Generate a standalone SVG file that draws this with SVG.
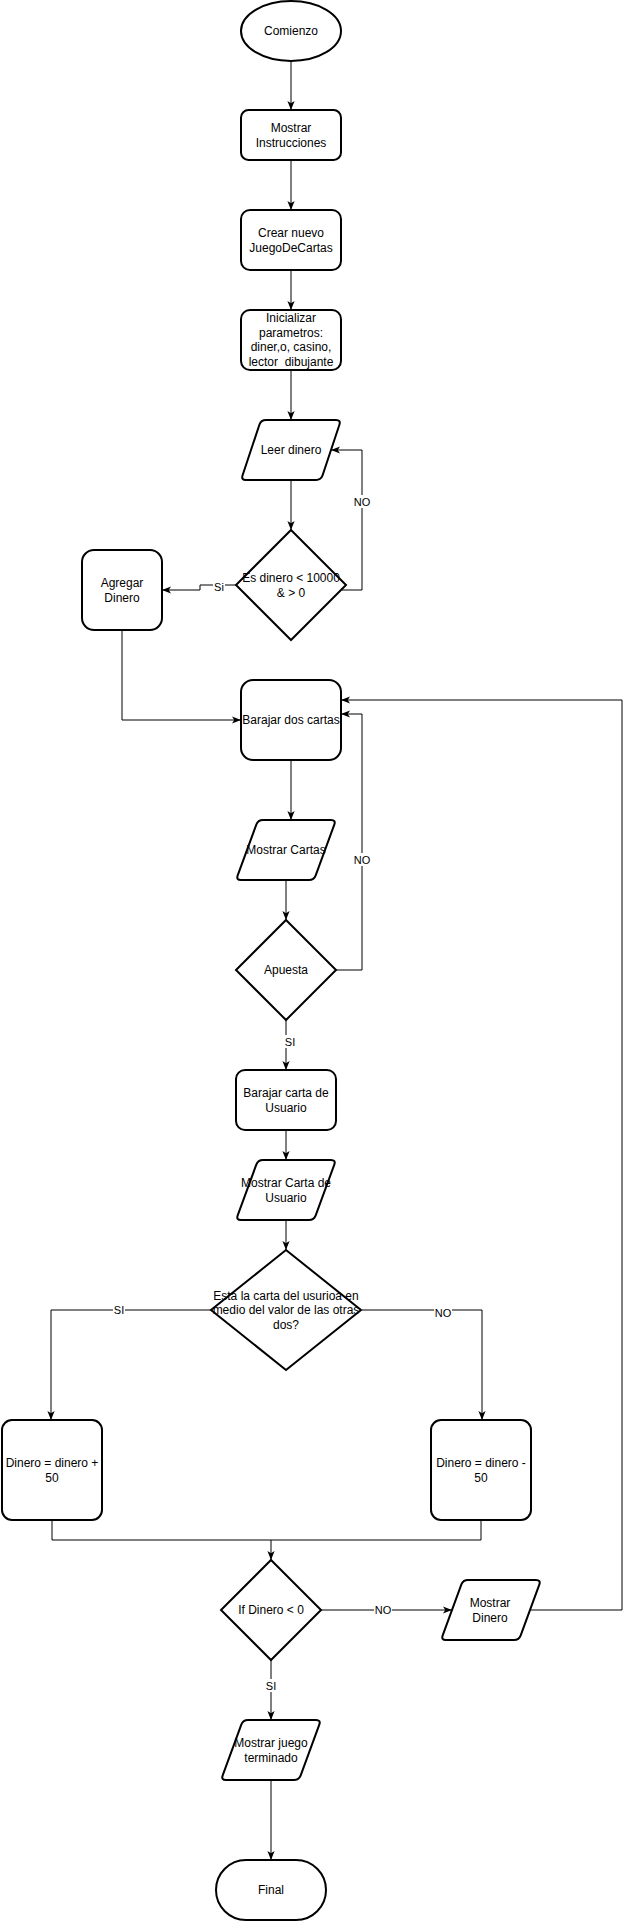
<svg xmlns="http://www.w3.org/2000/svg" xmlns:xlink="http://www.w3.org/1999/xlink" width="632" height="1922" viewBox="0 0 632 1922">
<style>
.s{fill:#fff;stroke:#000;stroke-width:2}
.t{font-family:"Liberation Sans",Arial,sans-serif;font-size:12px;text-anchor:middle;fill:#000}
.l{font-family:"Liberation Sans",Arial,sans-serif;font-size:11px;text-anchor:middle;fill:#000}
.c{fill:none;stroke:#000;stroke-width:1}
.a{marker-end:url(#arr)}
.bg{fill:#fff}
</style>
<defs>
<marker id="arr" viewBox="0 0 10 8" refX="10" refY="4" markerWidth="9" markerHeight="7.2" markerUnits="userSpaceOnUse" orient="auto">
<path d="M0,0 L10,4 L0,8 L2.5,4 Z" fill="#000"/>
</marker>
<path id="para20" d="M25,0 H95 Q100,0 98.4,4.7 L81.6,55.3 Q80,60 75,60 H5 Q0,60 1.6,55.3 L18.4,4.7 Q20,0 25,0 Z"/>
<path id="para22" d="M27,0 H95 Q100,0 98.3,4.7 L79.7,55.3 Q78,60 73,60 H5 Q0,60 1.7,55.3 L20.3,4.7 Q22,0 27,0 Z"/>
</defs>
<rect width="632" height="1922" fill="#fff"/>

<g id="connectors">
<path class="c a" d="M291,61 V110"/>
<path class="c a" d="M291,160 V210"/>
<path class="c a" d="M291,270 V310"/>
<path class="c a" d="M291,370 V420"/>
<path class="c a" d="M291,480 V530"/>
<path class="c a" d="M342,590 H362 V450 H331"/>
<rect class="bg" x="353" y="495" width="18" height="13"/>
<text class="l" x="362" y="506">NO</text>
<path class="c a" d="M236,585 H200 V590 H162"/>
<rect class="bg" x="213" y="580" width="12" height="13"/>
<text class="l" x="219" y="591">Si</text>
<path class="c a" d="M122,630 V720 H241"/>
<path class="c a" d="M291,760 V820"/>
<path class="c a" d="M286,880 V920"/>
<path class="c a" d="M336,970 H362 V714 H341"/>
<rect class="bg" x="353" y="853" width="18" height="13"/>
<text class="l" x="362" y="864">NO</text>
<path class="c a" d="M286,1020 V1070"/>
<rect class="bg" x="284" y="1035" width="12" height="13"/>
<text class="l" x="290" y="1046">SI</text>
<path class="c a" d="M286,1130 V1160"/>
<path class="c a" d="M286,1220 V1250"/>
<path class="c a" d="M212,1310 H51 V1420"/>
<rect class="bg" x="113" y="1303" width="12" height="13"/>
<text class="l" x="119" y="1314">SI</text>
<path class="c a" d="M362,1310 H482 V1420"/>
<rect class="bg" x="434" y="1306" width="18" height="13"/>
<text class="l" x="443" y="1317">NO</text>
<path class="c a" d="M52,1520 V1540 H271 V1560"/>
<path class="c" d="M481,1520 V1540 H271"/>
<path class="c a" d="M321,1610 H452"/>
<rect class="bg" x="374" y="1603" width="18" height="13"/>
<text class="l" x="383" y="1614">NO</text>
<path class="c a" d="M530,1610 H622 V700 H341"/>
<path class="c a" d="M271,1660 V1720"/>
<rect class="bg" x="265" y="1679" width="12" height="13"/>
<text class="l" x="271" y="1690">SI</text>
<path class="c a" d="M271,1780 V1860"/>
</g>

<g id="comienzo">
<ellipse class="s" cx="291" cy="31" rx="50" ry="30"/>
<text class="t" x="291" y="35">Comienzo</text>
</g>
<g id="mostrar-instrucciones">
<rect class="s" x="241" y="110" width="100" height="50" rx="7.5"/>
<text class="t" x="291" y="132">Mostrar</text>
<text class="t" x="291" y="146.5">Instrucciones</text>
</g>
<g id="crear-nuevo">
<rect class="s" x="241" y="210" width="100" height="60" rx="9"/>
<text class="t" x="291" y="237">Crear nuevo</text>
<text class="t" x="291" y="251.5">JuegoDeCartas</text>
</g>
<g id="inicializar">
<rect class="s" x="241" y="310" width="100" height="60" rx="9"/>
<text class="t" x="291" y="322">Inicializar</text>
<text class="t" x="291" y="336.5">parametros:</text>
<text class="t" x="291" y="351">diner,o, casino,</text>
<text class="t" x="291" y="365.5" style="white-space:pre">lector  dibujante</text>
</g>
<g id="leer-dinero">
<use href="#para20" class="s" x="241" y="420"/>
<text class="t" x="291" y="454">Leer dinero</text>
</g>
<g id="es-dinero">
<path class="s" d="M291,530 L346,585 L291,640 L236,585 Z"/>
<text class="t" x="291" y="582">Es dinero &lt; 10000</text>
<text class="t" x="291" y="596.5">&amp; &gt; 0</text>
</g>
<g id="agregar-dinero">
<rect class="s" x="82" y="550" width="80" height="80" rx="12"/>
<text class="t" x="122" y="587">Agregar</text>
<text class="t" x="122" y="601.5">Dinero</text>
</g>
<g id="barajar-dos-cartas">
<rect class="s" x="241" y="680" width="100" height="80" rx="12"/>
<text class="t" x="291" y="724">Barajar dos cartas</text>
</g>
<g id="mostrar-cartas">
<use href="#para22" class="s" x="236" y="820"/>
<text class="t" x="286" y="854">Mostrar Cartas</text>
</g>
<g id="apuesta">
<path class="s" d="M286,920 L336,970 L286,1020 L236,970 Z"/>
<text class="t" x="286" y="974">Apuesta</text>
</g>
<g id="barajar-carta-usuario">
<rect class="s" x="236" y="1070" width="100" height="60" rx="9"/>
<text class="t" x="286" y="1097">Barajar carta de</text>
<text class="t" x="286" y="1111.5">Usuario</text>
</g>
<g id="mostrar-carta-usuario">
<use href="#para22" class="s" x="236" y="1160"/>
<text class="t" x="286" y="1187">Mostrar Carta de</text>
<text class="t" x="286" y="1201.5">Usuario</text>
</g>
<g id="esta-la-carta">
<path class="s" d="M286,1250 L361,1310 L286,1370 L211,1310 Z"/>
<text class="t" x="286" y="1299.5">Esta la carta del usurioa en</text>
<text class="t" x="286" y="1314">medio del valor de las otras</text>
<text class="t" x="286" y="1328.5">dos?</text>
</g>
<g id="dinero-mas">
<rect class="s" x="2" y="1420" width="100" height="100" rx="10"/>
<text class="t" x="52" y="1467">Dinero = dinero +</text>
<text class="t" x="52" y="1481.5">50</text>
</g>
<g id="dinero-menos">
<rect class="s" x="431" y="1420" width="100" height="100" rx="10"/>
<text class="t" x="481" y="1467">Dinero = dinero -</text>
<text class="t" x="481" y="1481.5">50</text>
</g>
<g id="if-dinero">
<path class="s" d="M271,1560 L321,1610 L271,1660 L221,1610 Z"/>
<text class="t" x="271" y="1614">If Dinero &lt; 0</text>
</g>
<g id="mostrar-dinero">
<use href="#para22" class="s" x="441" y="1580"/>
<text class="t" x="490" y="1607">Mostrar</text>
<text class="t" x="490" y="1621.5">Dinero</text>
</g>
<g id="mostrar-juego-terminado">
<use href="#para22" class="s" x="221" y="1720"/>
<text class="t" x="271" y="1747">Mostrar juego</text>
<text class="t" x="271" y="1761.5">terminado</text>
</g>
<g id="final">
<rect class="s" x="216" y="1860" width="110" height="60" rx="30"/>
<text class="t" x="271" y="1894">Final</text>
</g>
</svg>
